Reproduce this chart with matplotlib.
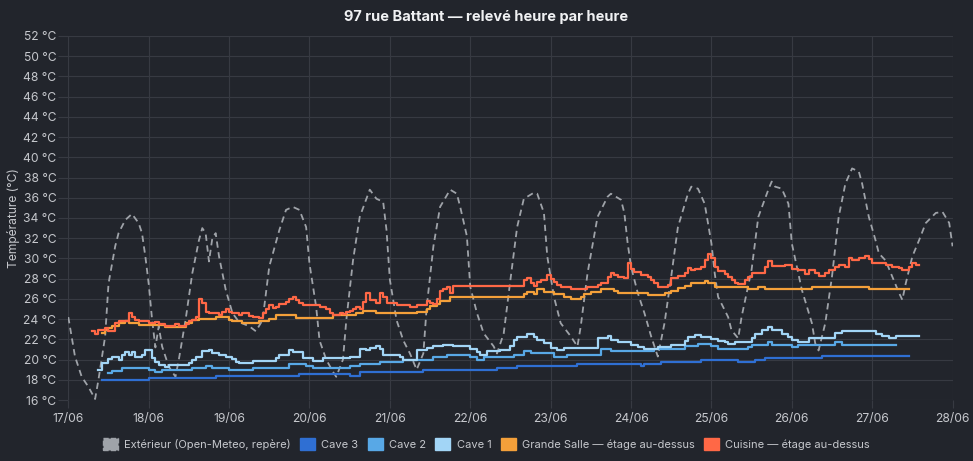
import matplotlib
matplotlib.use('Agg')
import matplotlib.pyplot as plt
import matplotlib.dates as mdates
from matplotlib.patches import Patch
import pandas as pd

plt.rcParams['font.family'] = ['Inter', 'DejaVu Sans']

BASE = pd.Timestamp('2025-06-17 00:00')
END = pd.Timestamp('2025-06-28 00:00')

# heures depuis le 17/06 00:00 -> valeur (°C)
ext_h = [0, 2, 4, 5, 6, 8, 9, 11, 12, 14, 15, 17, 19, 21, 22, 23, 24, 25, 26, 27, 28, 30, 32, 33, 35,
         37, 39, 40, 41, 42, 43, 44, 45, 47, 49, 51, 54, 56, 58, 60, 63, 65, 67, 69, 71, 72, 74, 75,
         77, 79, 80, 82, 83, 85, 87, 90, 92, 94, 95, 96, 98, 100, 102, 104, 106, 107, 109, 111, 114,
         116, 117, 119, 120, 122, 124, 127, 128, 130, 132, 134, 136, 139, 140, 142, 143, 145, 147,
         150, 152, 153, 155, 158, 161, 162, 165, 166, 167, 168, 170, 172, 174, 176, 178, 180, 182,
         185, 186, 188, 190, 192, 193, 194, 197, 198, 200, 201, 204, 206, 209, 210, 211, 213, 215,
         216, 219, 222, 223, 224, 226, 228, 230, 232, 234, 236, 237, 239, 241, 242, 244, 246, 248,
         249, 250, 252, 254, 256, 259, 261, 263, 264]
ext_v = [24.2, 20.3, 18.3, 17.8, 17.3, 16.1, 18.0, 22.3, 27.5, 31.2, 32.5, 33.8, 34.4, 33.5, 32.5,
         30.2, 27.5, 24.0, 21.2, 23.3, 21.3, 19.3, 18.3, 20.0, 23.9, 28.5, 31.8, 33.0, 32.5, 29.7,
         32.0, 32.5, 30.2, 26.9, 24.6, 23.7, 23.3, 22.8, 23.9, 29.2, 32.8, 34.8, 35.1, 34.8, 33.1,
         29.5, 25.2, 21.9, 20.0, 18.8, 18.3, 20.0, 23.9, 29.8, 34.1, 36.8, 35.9, 35.6, 32.8, 27.9,
         23.9, 21.9, 20.6, 19.0, 20.6, 25.2, 31.2, 35.1, 36.8, 36.4, 35.1, 32.2, 27.2, 24.6, 22.6,
         21.3, 20.6, 22.6, 27.9, 33.1, 35.9, 36.5, 36.4, 34.5, 30.2, 26.2, 23.6, 22.3, 21.3, 23.3,
         28.5, 34.1, 36.1, 36.4, 35.8, 34.5, 31.5, 29.2, 26.6, 24.6, 22.3, 20.3, 23.6, 28.2, 33.1,
         36.4, 37.1, 36.9, 35.4, 31.5, 28.5, 26.2, 24.2, 22.9, 22.1, 24.2, 28.9, 34.1, 36.8, 37.6,
         37.1, 36.9, 35.4, 31.5, 26.9, 23.6, 21.6, 20.9, 23.6, 28.2, 34.1, 37.4, 38.9, 38.6, 37.4,
         34.1, 31.8, 30.5, 29.8, 28.2, 26.6, 25.9, 27.5, 30.2, 31.8, 33.5, 34.5, 34.6, 33.5, 31.2]

cave3_h = [10, 24, 44, 69, 84, 87, 106, 128, 134, 152, 171, 172, 177, 189, 200, 205, 208, 225, 251]
cave3_v = [18.0, 18.2, 18.4, 18.6, 18.4, 18.8, 19.0, 19.2, 19.4, 19.6, 19.4, 19.6, 19.8, 20.0, 19.8,
           20.0, 20.2, 20.4, 20.4]

cave2_h = [12, 13, 16, 24, 26, 28, 37, 41, 43, 48, 55, 66, 71, 73, 84, 87, 93, 100, 109, 113, 120,
           122, 124, 133, 136, 138, 145, 149, 159, 162, 175, 184, 188, 192, 194, 203, 204, 209, 210,
           216, 218, 229, 231, 247]
cave2_v = [18.7, 18.9, 19.2, 19.0, 18.8, 19.0, 19.2, 19.4, 19.2, 19.0, 19.2, 19.6, 19.4, 19.2, 19.4,
           19.6, 19.8, 20.0, 20.3, 20.5, 20.3, 20.0, 20.3, 20.5, 20.8, 20.6, 20.3, 20.5, 21.0, 20.8,
           21.0, 21.3, 21.5, 21.3, 21.0, 21.2, 21.4, 21.7, 21.4, 21.2, 21.4, 21.7, 21.4, 21.4]

cave1_h = [9, 10, 12, 13, 15, 16, 17, 18, 19, 20, 22, 23, 25, 26, 27, 29, 30, 36, 37, 38, 40, 42, 43,
           45, 47, 49, 50, 51, 55, 62, 63, 66, 67, 70, 73, 76, 84, 87, 89, 90, 92, 93, 94, 99, 100,
           104, 107, 109, 112, 115, 120, 122, 123, 125, 129, 132, 133, 134, 137, 139, 140, 142, 144,
           146, 148, 158, 161, 162, 164, 168, 170, 172, 176, 180, 184, 185, 187, 189, 192, 194, 196,
           197, 199, 204, 205, 207, 209, 210, 213, 215, 216, 218, 221, 229, 231, 241, 243, 245, 247,
           254]
cave1_v = [19.0, 19.7, 20.1, 20.3, 20.0, 20.5, 20.7, 20.5, 20.7, 20.3, 20.5, 20.9, 20.2, 19.8, 19.5,
           19.3, 19.5, 19.7, 20.0, 20.3, 20.8, 20.9, 20.6, 20.5, 20.3, 20.1, 19.8, 19.7, 19.9, 20.2,
           20.5, 20.9, 20.7, 20.2, 19.9, 20.2, 20.3, 21.0, 20.9, 21.1, 21.3, 21.0, 20.5, 20.3, 20.0,
           20.9, 21.1, 21.3, 21.4, 21.3, 21.0, 20.7, 20.5, 20.8, 20.9, 21.3, 21.9, 22.2, 22.5, 22.2,
           21.9, 21.6, 21.1, 20.9, 21.1, 22.1, 22.3, 21.9, 21.7, 21.4, 21.2, 21.0, 21.2, 21.4, 21.8,
           22.2, 22.4, 22.2, 22.0, 21.8, 21.7, 21.5, 21.7, 22.1, 22.5, 22.9, 23.2, 22.9, 22.5, 22.2,
           21.9, 21.7, 22.1, 22.6, 22.8, 22.5, 22.3, 22.1, 22.3, 22.3]

salle_h = [10, 11, 12, 13, 15, 17, 18, 21, 29, 35, 37, 39, 44, 48, 49, 52, 57, 60, 62, 68, 79, 86,
           88, 92, 104, 107, 108, 110, 111, 114, 136, 137, 139, 140, 142, 145, 148, 150, 153, 154,
           156, 159, 163, 164, 173, 178, 180, 182, 184, 186, 190, 191, 193, 203, 206, 208, 222, 239,
           251]
salle_v = [22.6, 22.9, 23.1, 23.3, 23.6, 23.8, 23.6, 23.4, 23.2, 23.6, 23.9, 24.0, 24.2, 23.9, 23.8,
           23.6, 23.8, 24.0, 24.4, 24.1, 24.4, 24.6, 24.8, 24.6, 24.7, 25.0, 25.3, 25.5, 25.8, 26.2,
           26.5, 26.7, 26.5, 27.0, 26.7, 26.5, 26.2, 26.0, 26.2, 26.5, 26.7, 27.0, 26.8, 26.6, 26.4,
           26.6, 26.8, 27.1, 27.3, 27.6, 27.8, 27.6, 27.2, 27.0, 27.2, 27.0, 27.2, 27.0, 27.0]

cuisine_h = [7, 8, 9, 11, 12, 14, 15, 18, 19, 20, 21, 24, 26, 27, 29, 32, 33, 35, 36, 37, 38, 39, 40,
             41, 42, 45, 46, 47, 48, 49, 51, 52, 54, 55, 57, 58, 59, 60, 61, 62, 63, 65, 66, 67, 68,
             69, 70, 75, 77, 78, 79, 81, 82, 83, 84, 85, 86, 87, 88, 89, 90, 92, 93, 94, 95, 98, 102,
             104, 107, 108, 109, 110, 111, 112, 113, 114, 115, 136, 137, 138, 139, 140, 141, 143, 144,
             145, 146, 147, 150, 155, 158, 159, 161, 162, 163, 164, 166, 167, 168, 169, 171, 173, 174,
             175, 176, 179, 180, 182, 184, 185, 186, 187, 189, 190, 191, 192, 193, 194, 196, 197, 198,
             199, 200, 202, 203, 204, 208, 209, 210, 214, 216, 218, 220, 221, 223, 224, 226, 227, 229,
             230, 232, 233, 234, 236, 238, 239, 240, 244, 246, 248, 249, 251, 252, 253, 254]
cuisine_v = [22.8, 22.5, 22.9, 23.1, 22.8, 23.6, 23.8, 24.6, 24.2, 23.9, 23.8, 23.6, 23.7, 23.5, 23.3,
             23.5, 23.3, 23.5, 23.8, 23.9, 24.2, 26.0, 25.6, 24.7, 24.6, 24.4, 24.7, 25.0, 24.7, 24.6,
             24.4, 24.6, 24.3, 24.2, 24.1, 24.6, 25.0, 25.4, 25.1, 25.2, 25.5, 25.7, 26.0, 26.2, 25.9,
             25.6, 25.4, 25.2, 25.0, 24.6, 24.4, 24.6, 24.5, 24.7, 24.8, 25.0, 25.2, 25.0, 25.7, 26.6,
             25.9, 25.6, 26.6, 26.2, 25.6, 25.4, 25.2, 25.4, 25.8, 25.6, 25.5, 26.0, 26.8, 27.0, 27.2,
             26.6, 27.3, 27.9, 28.1, 27.6, 27.3, 27.7, 27.9, 28.4, 28.0, 27.7, 27.4, 27.2, 27.0, 27.2,
             27.4, 27.6, 28.2, 28.6, 28.4, 28.2, 28.1, 29.5, 29.0, 28.7, 28.4, 28.2, 27.9, 27.6, 27.2,
             27.4, 28.1, 28.3, 28.6, 29.1, 28.9, 29.0, 29.2, 29.8, 30.4, 30.0, 29.2, 28.8, 28.5, 28.2,
             27.9, 27.6, 27.5, 27.9, 28.2, 28.6, 29.2, 29.7, 29.3, 29.4, 29.0, 28.9, 28.5, 28.9, 28.6,
             28.3, 28.6, 28.9, 29.2, 29.4, 29.2, 30.0, 29.8, 30.0, 30.2, 29.9, 29.5, 29.4, 29.2, 29.1,
             28.9, 29.2, 29.5, 29.4, 29.4]

y_ticks = list(range(16, 53, 2))

BG = '#22252c'
GRID = '#373a42'
TXT = '#c6c8cd'
C_EXT = '#9fa3a9'
C_CAVE3 = '#2f6fd3'
C_CAVE2 = '#58a8e6'
C_CAVE1 = '#a2d5f6'
C_SALLE = '#f4a03a'
C_CUIS = '#ff6846'


def to_t(hours):
    return BASE + pd.to_timedelta(hours, unit='h')


fig = plt.figure(figsize=(9.73, 4.61), dpi=100, facecolor=BG)
ax = fig.add_axes([0.0702, 0.1323, 0.9088, 0.7897], facecolor=BG)

ax.plot(to_t(ext_h), ext_v, color=C_EXT, lw=1.3, dashes=(3.5, 2.5), zorder=2)
series = [
    (cave3_h, cave3_v, C_CAVE3),
    (cave2_h, cave2_v, C_CAVE2),
    (cave1_h, cave1_v, C_CAVE1),
    (salle_h, salle_v, C_SALLE),
    (cuisine_h, cuisine_v, C_CUIS),
]
for hh, vv, col in series:
    ax.step(to_t(hh), vv, where='post', color=col, lw=1.6, zorder=3)

ax.set_xlim(BASE, END)
ax.set_ylim(16, 52)
ax.set_yticks(y_ticks)
ax.set_yticklabels([f'{v} °C' for v in y_ticks])
ax.xaxis.set_major_locator(mdates.DayLocator())
ax.xaxis.set_major_formatter(mdates.DateFormatter('%d/%m'))

ax.grid(True, color=GRID, lw=0.8)
ax.set_axisbelow(True)
for s in ax.spines.values():
    s.set_visible(False)
ax.tick_params(axis='y', colors=GRID, labelcolor=TXT, labelsize=8.7, length=7, width=0.8, pad=1.5)
ax.tick_params(axis='x', colors=GRID, labelcolor=TXT, labelsize=8.7, length=6, width=0.8, pad=3)

ax.set_ylabel('Température (°C)', color=TXT, fontsize=8.7, labelpad=2)

fig.text(0.5, 0.963, '97 rue Battant — relevé heure par heure', ha='center', va='center',
         color='#f0f1f3', fontsize=10.5, fontweight='bold')

handles = [
    Patch(facecolor=C_EXT, edgecolor=C_EXT, linestyle='--'),
    Patch(facecolor=C_CAVE3, edgecolor=C_CAVE3),
    Patch(facecolor=C_CAVE2, edgecolor=C_CAVE2),
    Patch(facecolor=C_CAVE1, edgecolor=C_CAVE1),
    Patch(facecolor=C_SALLE, edgecolor=C_SALLE),
    Patch(facecolor=C_CUIS, edgecolor=C_CUIS),
]
labels = ['Extérieur (Open-Meteo, repère)', 'Cave 3', 'Cave 2', 'Cave 1',
          'Grande Salle — étage au-dessus', 'Cuisine — étage au-dessus']
leg = fig.legend(handles, labels, loc='center', bbox_to_anchor=(0.5, 0.037), ncol=6,
                 frameon=False, fontsize=8, handlelength=1.35, handleheight=1.2,
                 handletextpad=0.55, columnspacing=0.85, labelcolor=TXT)

fig.savefig('out.png', dpi=100, facecolor=BG)
